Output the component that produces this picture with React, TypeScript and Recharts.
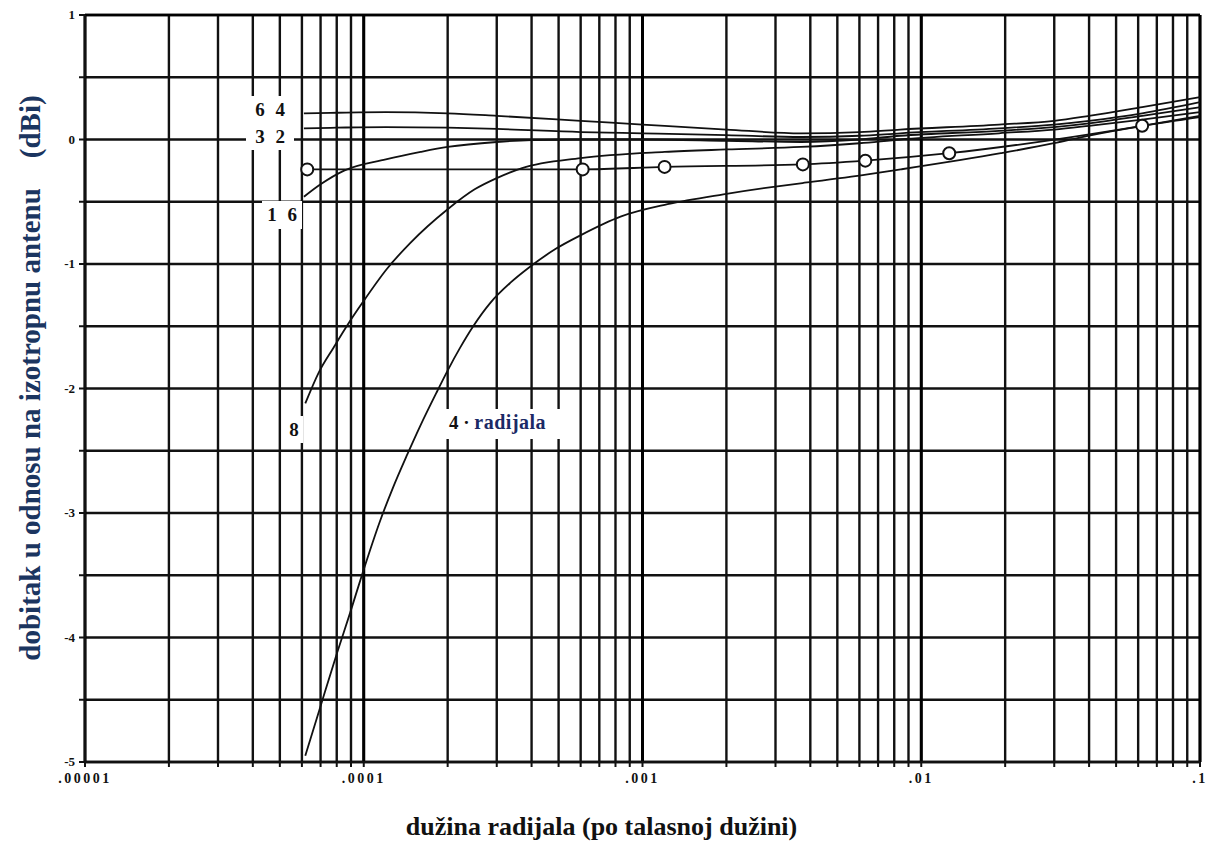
import React from 'react';
import { LineChart, Line, XAxis, YAxis, CartesianGrid, ReferenceLine } from 'recharts';

// axis ticks
const decadeValues = [0.00001, 0.0001, 0.001, 0.01, 0.1];
const decadeLabels = ['.00001', '.0001', '.001', '.01', '.1'];
const minorSteps = [1, 2, 3, 4, 5, 6, 7, 8, 9];
const yTickValues = [-5, -4.5, -4, -3.5, -3, -2.5, -2, -1.5, -1, -0.5, 0, 0.5, 1];

// 64 radijala
const r64X = [6.1e-5, 8e-5, 1.2e-4, 2e-4, 3e-4, 6e-4, 1e-3, 2e-3, 3.7e-3, 6e-3, 8.4e-3, 1.9e-2, 3e-2, 4e-2, 6.2e-2, 0.1];
const r64Y = [0.21, 0.215, 0.22, 0.21, 0.19, 0.15, 0.12, 0.08, 0.05, 0.06, 0.08, 0.12, 0.15, 0.19, 0.26, 0.34];

// 32 radijala
const r32X = [6.1e-5, 8e-5, 1.2e-4, 2e-4, 3e-4, 6e-4, 1e-3, 2e-3, 3.7e-3, 6e-3, 8.4e-3, 1.9e-2, 3e-2, 4e-2, 6.2e-2, 0.1];
const r32Y = [0.09, 0.095, 0.1, 0.095, 0.085, 0.06, 0.05, 0.035, 0.02, 0.03, 0.05, 0.09, 0.12, 0.15, 0.21, 0.3];

// 16 radijala
const r16X = [6.1e-5, 7e-5, 8.5e-5, 1.2e-4, 1.6e-4, 2e-4, 3e-4, 4e-4, 6e-4, 1e-3, 2e-3, 3.7e-3, 6e-3, 8.4e-3, 1.9e-2, 3e-2, 4e-2, 6.2e-2, 0.1];
const r16Y = [-0.46, -0.36, -0.25, -0.16, -0.1, -0.06, -0.02, -0.005, 0.0, 0.0, -0.01, -0.02, 0.0, 0.03, 0.07, 0.1, 0.13, 0.19, 0.26];

// 8 radijala
const r8X = [6.17e-5, 6.9e-5, 7.8e-5, 8.8e-5, 9.9e-5, 1.21e-4, 1.47e-4, 2e-4, 2.5e-4, 3e-4, 3.7e-4, 6e-4, 1.2e-3, 2e-3, 3.7e-3, 6e-3, 8.4e-3, 1.9e-2, 3e-2, 4e-2, 6.2e-2, 0.1];
const r8Y = [-2.12, -1.87, -1.67, -1.48, -1.31, -1.04, -0.83, -0.56, -0.4, -0.31, -0.23, -0.15, -0.1, -0.08, -0.06, -0.03, 0.0, 0.05, 0.08, 0.11, 0.16, 0.22];

// 4 radijala
const r4X = [6.17e-5, 6.98e-5, 8.03e-5, 8.94e-5, 9.88e-5, 1.146e-4, 1.266e-4, 1.433e-4, 1.595e-4, 1.836e-4, 1.995e-4, 2.22e-4, 2.47e-4, 2.85e-4, 3.36e-4, 3.96e-4, 4.87e-4, 5.99e-4, 8.34e-4, 1.23e-3, 1.95e-3, 2.95e-3, 3.75e-3, 6.42e-3, 8.44e-3, 1.93e-2, 2.99e-2, 3.96e-2, 4.91e-2, 6.24e-2, 0.1];
const r4Y = [-4.95, -4.56, -4.12, -3.8, -3.49, -3.06, -2.81, -2.53, -2.3, -2.02, -1.86, -1.67, -1.5, -1.31, -1.15, -1.02, -0.88, -0.77, -0.62, -0.52, -0.44, -0.38, -0.35, -0.28, -0.24, -0.11, -0.03, 0.03, 0.07, 0.11, 0.18];

// measured points (circles)
const circX = [6.27e-5, 6.1e-4, 1.2e-3, 3.76e-3, 6.3e-3, 1.26e-2, 6.2e-2, 0.1];
const circY = [-0.24, -0.24, -0.22, -0.2, -0.17, -0.11, 0.11, 0.19];
const circMark = [true, true, true, true, true, true, true, false];

const toPoints = (xs: number[], ys: number[]) => xs.map((x, i) => ({ x, y: ys[i] }));

const xTicks: number[] = [];
decadeValues.slice(0, 4).forEach((d) => minorSteps.forEach((m) => xTicks.push(Number((d * m).toPrecision(3)))));
xTicks.push(0.1);

const fmtX = (v: number) => {
  const i = decadeValues.findIndex((d) => Math.abs(v - d) / d < 1e-6);
  return i >= 0 ? decadeLabels[i] : '';
};
const fmtY = (v: number) => (Number.isInteger(v) ? String(v) : '');

const circleData = circX.map((x, i) => ({ x, y: circY[i], mark: circMark[i] }));

const CircleDot = (props: any) => {
  const { cx, cy, payload, index } = props;
  if (!payload.mark) return <g key={`c${index}`} />;
  return <circle key={`c${index}`} cx={cx} cy={cy} r={6} fill="#fff" stroke="#111" strokeWidth={2} />;
};

const serif = '"Liberation Serif", "Times New Roman", serif';

const XTick = (props: any) => {
  const { x, y, payload } = props;
  const label = fmtX(payload.value);
  if (!label) return <g />;
  return (
    <text x={x} y={y + 12} textAnchor="middle" fontFamily={serif} fontSize={14} fontWeight={700} fill="#111" letterSpacing={2.5}>
      {label}
    </text>
  );
};

const YTick = (props: any) => {
  const { x, y, payload } = props;
  const label = fmtY(payload.value);
  if (!label) return <g />;
  return (
    <text x={x - 2} y={y + 4} textAnchor="end" fontFamily={serif} fontSize={13} fontWeight={700} fill="#111">
      {label}
    </text>
  );
};

const labelBox: React.CSSProperties = {
  position: 'absolute',
  background: '#fff',
  fontFamily: serif,
  fontWeight: 700,
  fontSize: 19,
  color: '#111',
  lineHeight: '27px',
  whiteSpace: 'pre',
  textAlign: 'center',
  wordSpacing: 6,
};

export default function App() {
  const lineProps = {
    type: 'monotone' as const,
    dataKey: 'y',
    stroke: '#111',
    strokeWidth: 1.8,
    dot: false,
    isAnimationActive: false,
  };

  return (
    <div style={{ position: 'absolute', left: 0, top: 0, width: 1209, height: 846, background: '#fff' }}>
      <LineChart width={1209} height={846} margin={{ top: 15, right: 9, bottom: 54, left: 40 }}>
        <CartesianGrid stroke="#111" strokeWidth={2.4} />
        <XAxis
          dataKey="x"
          type="number"
          scale="log"
          domain={[0.00001, 0.1]}
          ticks={xTicks}
          interval={0}
          allowDataOverflow
          tick={<XTick />}
          tickSize={5}
          tickMargin={4}
          height={30}
          stroke="#111"
          strokeWidth={2}
        />
        <YAxis
          type="number"
          domain={[-5, 1]}
          ticks={yTickValues}
          interval={0}
          tick={<YTick />}
          tickSize={6}
          width={45}
          stroke="#111"
          strokeWidth={2}
        />
        {decadeValues.map((d) => (
          <ReferenceLine key={d} x={d} stroke="#000" strokeWidth={3} />
        ))}
        <ReferenceLine y={1} stroke="#000" strokeWidth={2.5} />
        <ReferenceLine y={-5} stroke="#000" strokeWidth={2.5} />
        <Line {...lineProps} data={toPoints(r64X, r64Y)} />
        <Line {...lineProps} data={toPoints(r32X, r32Y)} />
        <Line {...lineProps} data={toPoints(r16X, r16Y)} />
        <Line {...lineProps} data={toPoints(r8X, r8Y)} />
        <Line {...lineProps} data={toPoints(r4X, r4Y)} />
        <Line {...lineProps} data={circleData} dot={CircleDot} />
      </LineChart>

      <div style={{ ...labelBox, left: 246, top: 96, width: 48, height: 54 }}>{'6 4\n3 2'}</div>
      <div style={{ ...labelBox, left: 262, top: 201, width: 40, height: 28 }}>{'1 6'}</div>
      <div style={{ ...labelBox, left: 285, top: 416, width: 18, height: 27 }}>{'8'}</div>
      <div style={{ ...labelBox, left: 444, top: 409, width: 128, height: 30, textAlign: 'left', paddingLeft: 5, boxSizing: 'border-box', wordSpacing: 0 }}>
        <span>4 · </span>
        <span style={{ color: '#1b2a66', fontSize: 20, letterSpacing: 0.5 }}>radijala</span>
      </div>

      <div
        style={{
          position: 'absolute',
          left: 30,
          top: 378,
          transform: 'translate(-50%, -50%) rotate(-90deg)',
          whiteSpace: 'nowrap',
          fontFamily: serif,
          fontWeight: 700,
          fontSize: 29,
          color: '#1b3560',
        }}
      >
        dobitak u odnosu na izotropnu antenu<span style={{ marginLeft: 30 }}>(dBi)</span>
      </div>

      <div
        style={{
          position: 'absolute',
          left: 0,
          width: 1209,
          top: 812,
          textAlign: 'center',
          fontFamily: serif,
          fontWeight: 700,
          fontSize: 26,
          color: '#111',
        }}
      >
        <span style={{ position: 'relative', left: -3 }}>dužina radijala (po talasnoj dužini)</span>
      </div>
    </div>
  );
}
